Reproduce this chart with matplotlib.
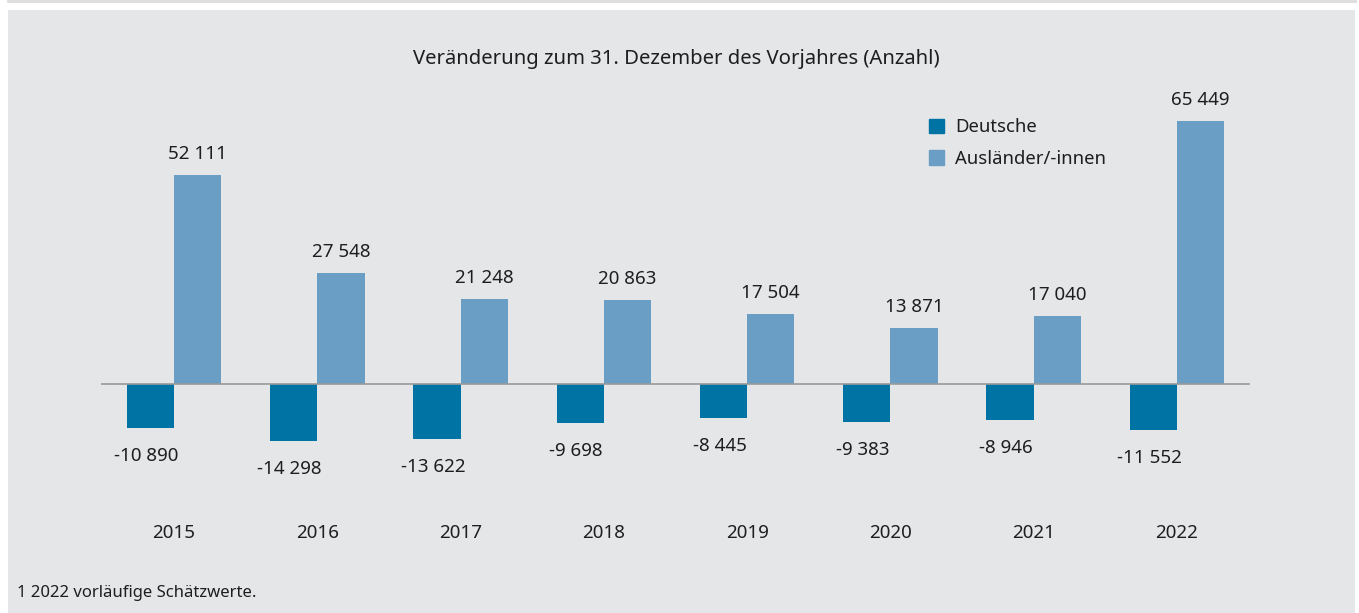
import matplotlib
matplotlib.use("Agg")
import matplotlib.pyplot as plt
from matplotlib.patches import Rectangle, Patch

W, H = 1359, 613
BG, INK = "#e5e6e8", "#1e1e1e"
DARK, LIGHT, AXIS = "#0073a5", "#6a9ec5", "#9a9a9a"

years = ["2015", "2016", "2017", "2018", "2019", "2020", "2021", "2022"]
deutsche = [-10890, -14298, -13622, -9698, -8445, -9383, -8946, -11552]
auslaender = [52111, 27548, 21248, 20863, 17504, 13871, 17040, 65449]

plt.rcParams.update({"font.family": ["Noto Sans", "DejaVu Sans"], "font.size": 13.5,
                     "text.color": INK})

fig = plt.figure(figsize=(W / 100, H / 100), dpi=100, facecolor="white")
fig.patches.append(Rectangle((8 / W, 0), 1347 / W, 1 - 10 / H, transform=fig.transFigure,
                             facecolor=BG, edgecolor="none", zorder=-2))
fig.lines.append(plt.Line2D([8 / W, 1355 / W], [1 - 0.5 / H] * 2, transform=fig.transFigure,
                            color="#dcdcdc", lw=2, zorder=-2))

ax = fig.add_axes([101 / W, 1 - 470 / H, 1149 / W, 370 / H])
ax.set_facecolor("none")
ax.set_xlim(-0.51, 7.51)
ax.set_ylim(-21440, 70800)
ax.axis("off")

BW = 0.33
x = range(len(years))
ax.bar([i - BW / 2 for i in x], deutsche, width=BW, color=DARK, zorder=2)
ax.bar([i + BW / 2 for i in x], auslaender, width=BW, color=LIGHT, zorder=2)
ax.axhline(0, color=AXIS, lw=1.2, zorder=3)


def fmt(v):
    return f"{v:,}".replace(",", " ")


for i, (d, a) in enumerate(zip(deutsche, auslaender)):
    ax.annotate(fmt(a), (i + BW / 2, a), xytext=(0, 21), textcoords="offset pixels",
                ha="center", va="center")
    ax.annotate(fmt(d), (i - BW / 2, d), xytext=(-4, -28), textcoords="offset pixels",
                ha="center", va="center")
    ax.annotate(years[i], (i, 0), xytext=(0, -149), textcoords="offset pixels",
                ha="center", va="center")

fig.text(676 / W, 1 - 59 / H, "Veränderung zum 31. Dezember des Vorjahres (Anzahl)",
         ha="center", va="center", fontsize=14.6)
fig.text(17 / W, 1 - 593 / H, "1 2022 vorläufige Schätzwerte.", ha="left", va="center",
         fontsize=12)

handles = [Patch(color=DARK, label="Deutsche"), Patch(color=LIGHT, label="Ausländer/-innen")]
fig.legend(handles=handles, loc="upper left", bbox_to_anchor=(929 / W, 1 - 118 / H),
           frameon=False, borderpad=0, borderaxespad=0, handlelength=0.8, handleheight=0.8,
           handletextpad=0.6, labelspacing=0.75, fontsize=13.3)

fig.savefig("out.png", dpi=100, facecolor="white")
